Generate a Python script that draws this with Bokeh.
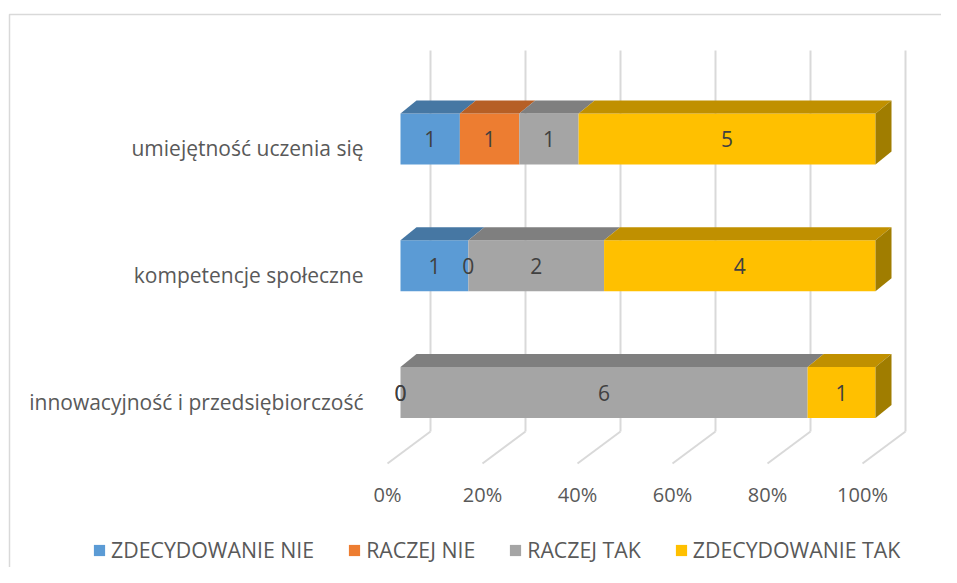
import numpy as np
from bokeh.plotting import figure
from bokeh.models import ColumnDataSource, Legend, LegendItem
from bokeh.core.properties import value
from bokeh.embed import file_html
from bokeh.resources import INLINE

# ---------------- data ----------------
categories = ["umiejętność uczenia się", "kompetencje społeczne",
              "innowacyjność i przedsiębiorczość"]
series_names = ["ZDECYDOWANIE NIE", "RACZEJ NIE", "RACZEJ TAK", "ZDECYDOWANIE TAK"]
zdecydowanie_nie = [1, 1, 0]
raczej_nie = [1, 0, 0]
raczej_tak = [1, 2, 6]
zdecydowanie_tak = [5, 4, 1]
tick_values = [0, 20, 40, 60, 80, 100]
tick_labels = ["0%", "20%", "40%", "60%", "80%", "100%"]

# ---------------- style ----------------
front_colors = ["#5B9BD5", "#ED7D31", "#A5A5A5", "#FFC000"]
top_colors = ["#4677A3", "#B65F25", "#7F7F7F", "#C09000"]
side_colors = ["#3E6A93", "#A35521", "#727272", "#A07D00"]
FONT = "Open Sans"
GRID = "#D9D9D9"

W, H = 941, 567
PXX = 4.75      # px per percent
PXY = 126.75    # px per category step
BAR_H = 51.0 / PXY
DX = 16 / PXX   # depth offset in x (percent units)
DY = 13 / PXY   # depth offset in y (category units)
WALL_DX = 30 / PXX
FLOOR_DX = -13 / PXX
WALL_TOP = (392 - 50) / PXY
WALL_BOT = (392 - 431) / PXY
FLOOR_FRONT = (392 - 463) / PXY
TICK_Y = (392 - 494) / PXY
CAT_X = (363 - 400) / PXX
CAT_DY = -9 / PXY

p = figure(width=W, height=H, output_backend="svg", toolbar_location=None,
           x_range=((0 - 400) / PXX, (W - 400) / PXX),
           y_range=((392 - H) / PXY, (392 - 0) / PXY),
           min_border=0, min_border_left=0, min_border_right=0,
           min_border_top=0, min_border_bottom=0)
p.axis.visible = False
p.grid.visible = False
p.outline_line_color = None
p.background_fill_color = "white"
p.border_fill_color = "white"

# chart border (left and top edges visible)
bx = (9 - 400) / PXX
by = (392 - 14) / PXY
p.line([bx, bx, 200], [-5, by, by], line_color=GRID, line_width=1.5)

# back wall gridlines and floor lines
tv = np.array(tick_values, dtype=float)
p.segment(x0=tv + WALL_DX, y0=[WALL_TOP] * len(tv), x1=tv + WALL_DX, y1=[WALL_BOT] * len(tv),
          line_color=GRID, line_width=2)
p.segment(x0=tv + WALL_DX, y0=[WALL_BOT] * len(tv), x1=tv + FLOOR_DX, y1=[FLOOR_FRONT] * len(tv),
          line_color=GRID, line_width=2)
p.text(x=list(tv + FLOOR_DX), y=[TICK_Y] * len(tv), text=tick_labels,
       text_font=value(FONT), text_font_size="20px", text_color="#595959",
       text_align="center", text_baseline="middle")

# stacked 100% bars
vals = np.array([zdecydowanie_nie, raczej_nie, raczej_tak, zdecydowanie_tak], dtype=float)
totals = vals.sum(axis=0)
pct = vals / totals * 100
cum = np.cumsum(pct, axis=0)
left = cum - pct
ypos = np.array([2.0, 1.0, 0.0])
top = ypos + BAR_H / 2
bot = ypos - BAR_H / 2

legend_items = []
lab_x, lab_y, lab_t = [], [], []
for s in range(len(series_names)):
    l = left[s]
    r = cum[s]
    src = ColumnDataSource(dict(left=l, right=r, top=top, bottom=bot))
    rend = p.quad(left="left", right="right", top="top", bottom="bottom", source=src,
                  fill_color=front_colors[s], line_color=None)
    legend_items.append(LegendItem(label=series_names[s], renderers=[rend]))
    xs, ys = [], []
    for i in range(len(categories)):
        if pct[s, i] > 0:
            xs.append([l[i], r[i], r[i] + DX, l[i] + DX])
            ys.append([top[i], top[i], top[i] + DY, top[i] + DY])
        lab_x.append((l[i] + r[i]) / 2)
        lab_y.append(ypos[i])
        lab_t.append(str(int(vals[s, i])))
    if xs:
        p.patches(xs=xs, ys=ys, fill_color=top_colors[s], line_color=None)

# right side faces (last non-zero series of each row)
sxs, sys_, scol = [], [], []
for i in range(len(categories)):
    last = max(s for s in range(len(series_names)) if vals[s, i] > 0)
    xr = cum[last, i]
    sxs.append([xr, xr + DX, xr + DX, xr])
    sys_.append([bot[i], bot[i] + DY, top[i] + DY, top[i]])
    scol.append(side_colors[last])
p.patches(xs=sxs, ys=sys_, fill_color=scol, line_color=None)

# data labels
p.text(x=lab_x, y=lab_y, text=lab_t, text_font=value(FONT), text_font_size="21px",
       text_color="#404040", text_align="center", text_baseline="middle")

# category labels
p.text(x=[CAT_X] * len(categories), y=list(ypos + CAT_DY), text=categories,
       text_font=value(FONT), text_font_size="21px", text_color="#595959",
       text_align="right", text_baseline="middle")

legend = Legend(items=legend_items, orientation="horizontal", location=(92, 3),
                label_text_font=FONT, label_text_font_size="21.3px",
                label_text_color="#595959", glyph_width=14, glyph_height=14,
                label_standoff=5, spacing=33, padding=0, margin=0,
                border_line_color=None, background_fill_alpha=0,
                label_height=20)
p.add_layout(legend)

open("out.html", "w").write(file_html(p, INLINE))
